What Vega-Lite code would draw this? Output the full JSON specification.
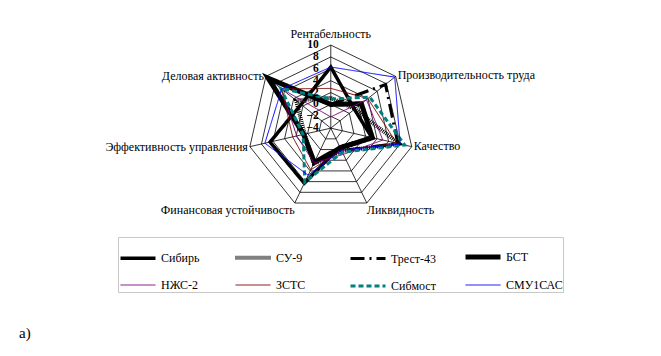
{
  "$schema": "https://vega.github.io/schema/vega-lite/v6.json",
  "width": 661,
  "height": 356,
  "autosize": {"type": "none"},
  "padding": 0,
  "background": "white",
  "config": {"view": {"stroke": null}, "font": "Liberation Serif", "legend": {"labelFont": "Liberation Serif", "labelFontWeight": "normal"}},
  "title": {"text": "а)", "orient": "bottom", "anchor": "start", "offset": -30, "dx": 19, "font": "Liberation Serif", "fontSize": 15, "fontWeight": "normal", "color": "black"},
  "datasets": {
    "rings": [
      {"lvl": -2, "k": [0,1,2,3,4,5,6]},
      {"lvl": 0, "k": [0,1,2,3,4,5,6]},
      {"lvl": 2, "k": [0,1,2,3,4,5,6]},
      {"lvl": 4, "k": [0,1,2,3,4,5,6]},
      {"lvl": 6, "k": [0,1,2,3,4,5,6]},
      {"lvl": 8, "k": [0,1,2,3,4,5,6]},
      {"lvl": 10, "k": [0,1,2,3,4,5,6]}
    ],
    "axes": [
      {"k": 0, "name": "Рентабельность"},
      {"k": 1, "name": "Производительность труда"},
      {"k": 2, "name": "Качество"},
      {"k": 3, "name": "Ликвидность"},
      {"k": 4, "name": "Финансовая устойчивость"},
      {"k": 5, "name": "Эффективность управления"},
      {"k": 6, "name": "Деловая активность"}
    ],
    "ticks": [{"t": 10}, {"t": 8}, {"t": 6}, {"t": 4}, {"t": 2}, {"t": 0}, {"t": -2}, {"t": -4}],
    "series": [
      {"s": "Сибирь", "k": 0, "v": 6.3}, {"s": "Сибирь", "k": 1, "v": 1.1}, {"s": "Сибирь", "k": 2, "v": 3.1}, {"s": "Сибирь", "k": 3, "v": -0.5}, {"s": "Сибирь", "k": 4, "v": 6.3}, {"s": "Сибирь", "k": 5, "v": 6.5}, {"s": "Сибирь", "k": 6, "v": 2.4},
      {"s": "СУ-9", "k": 0, "v": 1.1}, {"s": "СУ-9", "k": 1, "v": 1.2}, {"s": "СУ-9", "k": 2, "v": 7.8}, {"s": "СУ-9", "k": 3, "v": 0.3}, {"s": "СУ-9", "k": 4, "v": 2.6}, {"s": "СУ-9", "k": 5, "v": 0.5}, {"s": "СУ-9", "k": 6, "v": 3.5},
      {"s": "Трест-43", "k": 0, "v": 0.0}, {"s": "Трест-43", "k": 1, "v": 7.8}, {"s": "Трест-43", "k": 2, "v": 7.6}, {"s": "Трест-43", "k": 3, "v": 0.2}, {"s": "Трест-43", "k": 4, "v": 2.6}, {"s": "Трест-43", "k": 5, "v": 0.6}, {"s": "Трест-43", "k": 6, "v": 9.3},
      {"s": "БСТ", "k": 0, "v": 0.0}, {"s": "БСТ", "k": 1, "v": 2.6}, {"s": "БСТ", "k": 2, "v": 3.2}, {"s": "БСТ", "k": 3, "v": -0.3}, {"s": "БСТ", "k": 4, "v": 2.4}, {"s": "БСТ", "k": 5, "v": 0.7}, {"s": "БСТ", "k": 6, "v": 9.5},
      {"s": "НЖС-2", "k": 0, "v": -2.1}, {"s": "НЖС-2", "k": 1, "v": 3.7}, {"s": "НЖС-2", "k": 2, "v": 5.0}, {"s": "НЖС-2", "k": 3, "v": 0.9}, {"s": "НЖС-2", "k": 4, "v": 2.5}, {"s": "НЖС-2", "k": 5, "v": 1.9}, {"s": "НЖС-2", "k": 6, "v": 6.7},
      {"s": "ЗСТС", "k": 0, "v": 2.7}, {"s": "ЗСТС", "k": 1, "v": 4.0}, {"s": "ЗСТС", "k": 2, "v": 7.4}, {"s": "ЗСТС", "k": 3, "v": 0.2}, {"s": "ЗСТС", "k": 4, "v": 3.8}, {"s": "ЗСТС", "k": 5, "v": 2.6}, {"s": "ЗСТС", "k": 6, "v": 6.6},
      {"s": "Сибмост", "k": 0, "v": 0.9}, {"s": "Сибмост", "k": 1, "v": 4.4}, {"s": "Сибмост", "k": 2, "v": 8.8}, {"s": "Сибмост", "k": 3, "v": 0.5}, {"s": "Сибмост", "k": 4, "v": 6.1}, {"s": "Сибмост", "k": 5, "v": 0.8}, {"s": "Сибмост", "k": 6, "v": 6.8},
      {"s": "СМУ1САС", "k": 0, "v": 6.3}, {"s": "СМУ1САС", "k": 1, "v": 9.8}, {"s": "СМУ1САС", "k": 2, "v": 8.0}, {"s": "СМУ1САС", "k": 3, "v": 0.1}, {"s": "СМУ1САС", "k": 4, "v": 4.8}, {"s": "СМУ1САС", "k": 5, "v": 7.4}, {"s": "СМУ1САС", "k": 6, "v": 6.6}
    ]
  },
  "layer": [
    {
      "data": {"name": "rings"},
      "transform": [
        {"flatten": ["k"]},
        {"calculate": "datum.k * 2 * PI / 7", "as": "ang"},
        {"calculate": "(datum.lvl + 4) * sin(datum.ang)", "as": "x"},
        {"calculate": "(datum.lvl + 4) * cos(datum.ang)", "as": "y"}
      ],
      "mark": {"type": "line", "interpolate": "linear-closed", "color": "#000000", "strokeWidth": 0.8},
      "encoding": {
        "x": {"field": "x", "type": "quantitative", "scale": {"domain": [-55.8, 55.7], "zero": false, "nice": false}, "axis": null},
        "y": {"field": "y", "type": "quantitative", "scale": {"domain": [-38.4, 21.6], "zero": false, "nice": false}, "axis": null},
        "detail": {"field": "lvl", "type": "nominal"},
        "order": {"field": "k", "type": "quantitative"}
      }
    },
    {
      "data": {"name": "axes"},
      "transform": [
        {"calculate": "datum.k * 2 * PI / 7", "as": "ang"},
        {"calculate": "14 * sin(datum.ang)", "as": "xo"},
        {"calculate": "14 * cos(datum.ang)", "as": "yo"},
        {"calculate": "0", "as": "x"},
        {"calculate": "0", "as": "y"}
      ],
      "mark": {"type": "rule", "color": "#000000", "strokeWidth": 0.8},
      "encoding": {
        "x": {"field": "x", "type": "quantitative", "scale": {"domain": [-55.8, 55.7], "zero": false, "nice": false}, "axis": null},
        "y": {"field": "y", "type": "quantitative", "scale": {"domain": [-38.4, 21.6], "zero": false, "nice": false}, "axis": null},
        "x2": {"field": "xo"},
        "y2": {"field": "yo"}
      }
    },
    {
      "data": {"name": "series"},
      "transform": [
        {"calculate": "datum.k * 2 * PI / 7", "as": "ang"},
        {"calculate": "(datum.v + 4) * sin(datum.ang)", "as": "x"},
        {"calculate": "(datum.v + 4) * cos(datum.ang)", "as": "y"}
      ],
      "mark": {"type": "line", "interpolate": "linear-closed", "strokeJoin": "miter"},
      "encoding": {
        "x": {"field": "x", "type": "quantitative", "scale": {"domain": [-55.8, 55.7], "zero": false, "nice": false}, "axis": null},
        "y": {"field": "y", "type": "quantitative", "scale": {"domain": [-38.4, 21.6], "zero": false, "nice": false}, "axis": null},
        "order": {"field": "k", "type": "quantitative"},
        "color": {
          "field": "s", "type": "nominal",
          "scale": {"domain": ["Сибирь", "СУ-9", "Трест-43", "БСТ", "НЖС-2", "ЗСТС", "Сибмост", "СМУ1САС"],
                    "range": ["#000000", "#000000", "#000000", "#000000", "#800080", "#800000", "#008080", "#0000FF"]},
          "legend": {
            "orient": "none", "legendX": 118, "legendY": 237, "direction": "horizontal", "columns": 4,
            "title": null, "symbolType": "stroke", "symbolSize": 1225, "gridAlign": "all",
            "labelFont": "Liberation Serif", "labelFontSize": 12, "labelFontWeight": "normal", "labelColor": "#000000", "labelOffset": 3,
            "labelLimit": 200, "columnPadding": 7, "rowPadding": -12, "padding": 0,
            "strokeColor": "#c8c8c8", "fillColor": "#ffffff"
          }
        },
        "strokeDash": {
          "field": "s", "type": "nominal",
          "scale": {"type": "ordinal", "domain": ["Сибирь", "СУ-9", "Трест-43", "БСТ", "НЖС-2", "ЗСТС", "Сибмост", "СМУ1САС"],
                    "range": [[1, 0], [1, 1], [14, 5, 2, 5], [1, 0], [1, 0], [1, 0], [5, 3], [1, 0]]}
        },
        "strokeWidth": {
          "field": "s", "type": "nominal",
          "scale": {"type": "ordinal", "domain": ["Сибирь", "СУ-9", "Трест-43", "БСТ", "НЖС-2", "ЗСТС", "Сибмост", "СМУ1САС"],
                    "range": [3.5, 4, 3, 5, 1, 1, 3, 1]}
        }
      }
    },
    {
      "data": {"name": "ticks"},
      "transform": [
        {"calculate": "0", "as": "x"},
        {"calculate": "datum.t + 4", "as": "y"}
      ],
      "mark": {"type": "text", "align": "right", "baseline": "middle", "dx": -12, "font": "Liberation Serif", "fontSize": 11.5, "fontWeight": "bold", "color": "#000000"},
      "encoding": {
        "x": {"field": "x", "type": "quantitative", "scale": {"domain": [-55.8, 55.7], "zero": false, "nice": false}, "axis": null},
        "y": {"field": "y", "type": "quantitative", "scale": {"domain": [-38.4, 21.6], "zero": false, "nice": false}, "axis": null},
        "text": {"field": "t", "type": "quantitative"}
      }
    },
    {
      "data": {"name": "axes"},
      "transform": [
        {"filter": "datum.k == 0"},
        {"calculate": "0", "as": "x"},
        {"calculate": "14", "as": "y"}
      ],
      "mark": {"type": "text", "align": "center", "baseline": "alphabetic", "dy": -7, "font": "Liberation Serif", "fontSize": 12, "color": "#000000"},
      "encoding": {
        "x": {"field": "x", "type": "quantitative", "scale": {"domain": [-55.8, 55.7], "zero": false, "nice": false}, "axis": null},
        "y": {"field": "y", "type": "quantitative", "scale": {"domain": [-38.4, 21.6], "zero": false, "nice": false}, "axis": null},
        "text": {"field": "name", "type": "nominal"}
      }
    },
    {
      "data": {"name": "axes"},
      "transform": [
        {"filter": "datum.k == 1 || datum.k == 2"},
        {"calculate": "datum.k * 2 * PI / 7", "as": "ang"},
        {"calculate": "14 * sin(datum.ang)", "as": "x"},
        {"calculate": "14 * cos(datum.ang)", "as": "y"}
      ],
      "mark": {"type": "text", "align": "left", "baseline": "middle", "dx": 2, "dy": -1, "font": "Liberation Serif", "fontSize": 12, "color": "#000000"},
      "encoding": {
        "x": {"field": "x", "type": "quantitative", "scale": {"domain": [-55.8, 55.7], "zero": false, "nice": false}, "axis": null},
        "y": {"field": "y", "type": "quantitative", "scale": {"domain": [-38.4, 21.6], "zero": false, "nice": false}, "axis": null},
        "text": {"field": "name", "type": "nominal"}
      }
    },
    {
      "data": {"name": "axes"},
      "transform": [
        {"filter": "datum.k == 3"},
        {"calculate": "datum.k * 2 * PI / 7", "as": "ang"},
        {"calculate": "14 * sin(datum.ang)", "as": "x"},
        {"calculate": "14 * cos(datum.ang)", "as": "y"}
      ],
      "mark": {"type": "text", "align": "left", "baseline": "top", "dy": 2, "font": "Liberation Serif", "fontSize": 12, "color": "#000000"},
      "encoding": {
        "x": {"field": "x", "type": "quantitative", "scale": {"domain": [-55.8, 55.7], "zero": false, "nice": false}, "axis": null},
        "y": {"field": "y", "type": "quantitative", "scale": {"domain": [-38.4, 21.6], "zero": false, "nice": false}, "axis": null},
        "text": {"field": "name", "type": "nominal"}
      }
    },
    {
      "data": {"name": "axes"},
      "transform": [
        {"filter": "datum.k == 4"},
        {"calculate": "datum.k * 2 * PI / 7", "as": "ang"},
        {"calculate": "14 * sin(datum.ang)", "as": "x"},
        {"calculate": "14 * cos(datum.ang)", "as": "y"}
      ],
      "mark": {"type": "text", "align": "right", "baseline": "top", "dy": 2, "font": "Liberation Serif", "fontSize": 12, "color": "#000000"},
      "encoding": {
        "x": {"field": "x", "type": "quantitative", "scale": {"domain": [-55.8, 55.7], "zero": false, "nice": false}, "axis": null},
        "y": {"field": "y", "type": "quantitative", "scale": {"domain": [-38.4, 21.6], "zero": false, "nice": false}, "axis": null},
        "text": {"field": "name", "type": "nominal"}
      }
    },
    {
      "data": {"name": "axes"},
      "transform": [
        {"filter": "datum.k == 5 || datum.k == 6"},
        {"calculate": "datum.k * 2 * PI / 7", "as": "ang"},
        {"calculate": "14 * sin(datum.ang)", "as": "x"},
        {"calculate": "14 * cos(datum.ang)", "as": "y"}
      ],
      "mark": {"type": "text", "align": "right", "baseline": "middle", "dx": -2, "font": "Liberation Serif", "fontSize": 12, "color": "#000000"},
      "encoding": {
        "x": {"field": "x", "type": "quantitative", "scale": {"domain": [-55.8, 55.7], "zero": false, "nice": false}, "axis": null},
        "y": {"field": "y", "type": "quantitative", "scale": {"domain": [-38.4, 21.6], "zero": false, "nice": false}, "axis": null},
        "text": {"field": "name", "type": "nominal"}
      }
    }
  ]
}
